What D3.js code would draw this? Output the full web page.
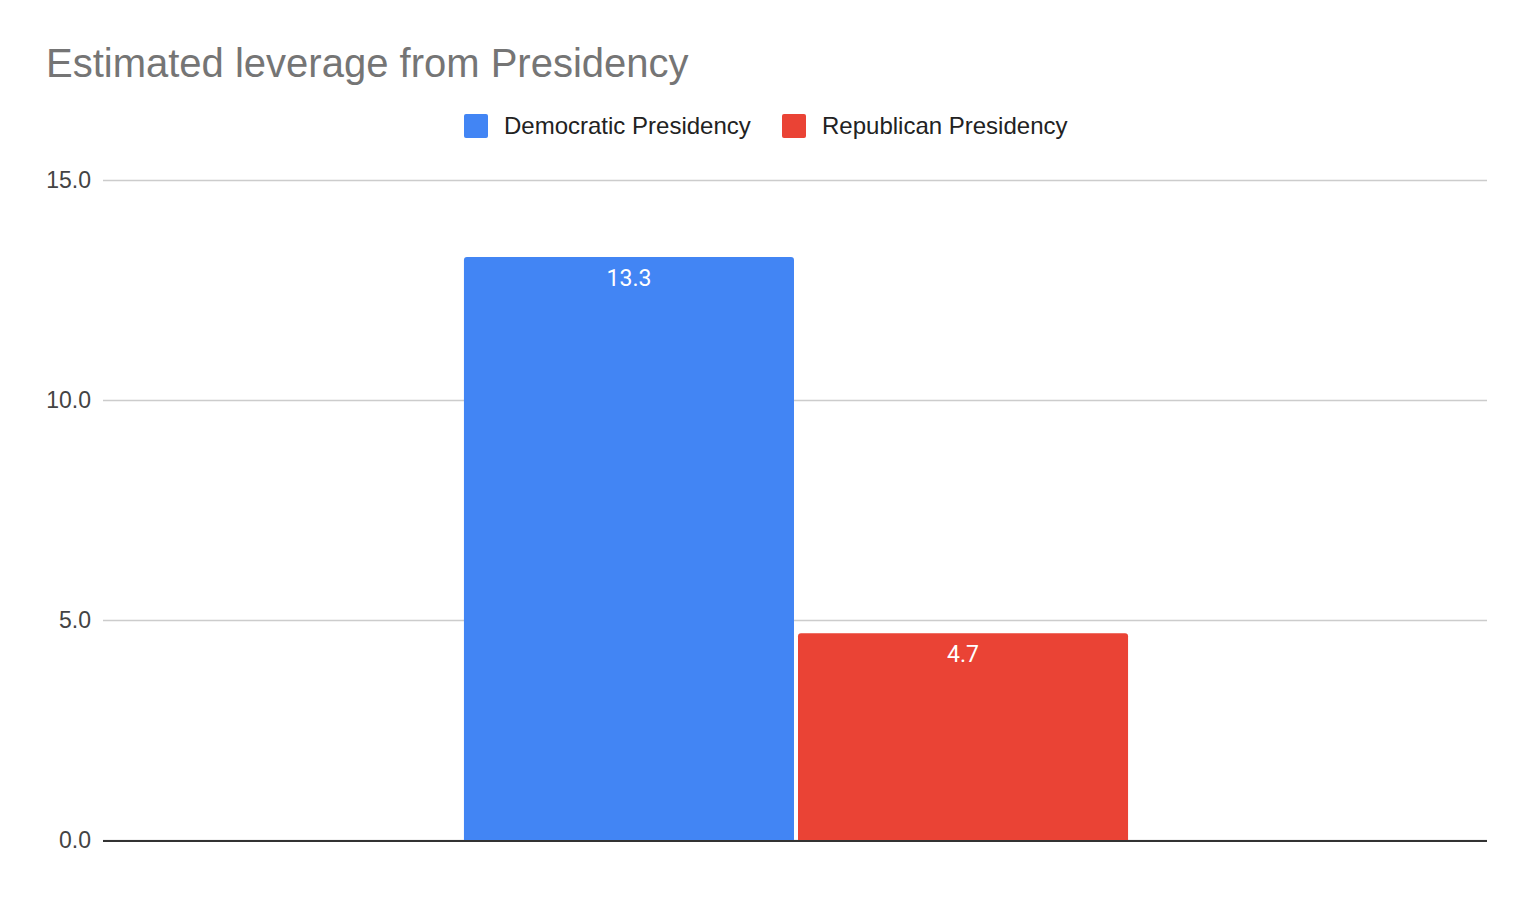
<!DOCTYPE html>
<html>
<head>
<meta charset="utf-8">
<script src="https://cdn.jsdelivr.net/npm/d3@7"></script>
<style>
  body { margin: 0; background: #fff; }
  svg { display: block; }
</style>
</head>
<body>
<div id="chart"></div>
<script>
// Data
const categories = [""];
const seriesNames = ["Democratic Presidency", "Republican Presidency"];
const seriesColors = ["#4285f4", "#ea4335"];
const seriesValues = [13.25, 4.7];
const yTicks = [0, 5, 10, 15];

const width = 1532;
const height = 898;
const margin = { top: 180, right: 45, bottom: 58, left: 103 };

const svg = d3.select("#chart").append("svg")
    .attr("width", width)
    .attr("height", height)
    .style("font-family", "Arial, 'Liberation Sans', sans-serif");

// title
svg.append("text")
    .attr("x", 46)
    .attr("y", 77)
    .attr("fill", "#757575")
    .attr("font-size", 40)
    .text("Estimated leverage from Presidency");

const y = d3.scaleLinear()
    .domain([0, 15])
    .range([height - margin.bottom, margin.top]);

const x0 = d3.scaleBand()
    .domain(categories)
    .range([margin.left + 1, width - margin.right + 1])
    .paddingInner(0)
    .paddingOuter(0.542);

const x1 = d3.scaleBand()
    .domain(seriesNames)
    .range([0, x0.bandwidth()])
    .paddingInner(0.012);

// grid lines + tick labels
const yAxis = svg.append("g")
    .attr("transform", `translate(${margin.left},0)`)
    .call(d3.axisLeft(y)
        .tickValues(yTicks)
        .tickFormat(d3.format(".1f"))
        .tickSize(-(width - margin.left - margin.right))
        .tickPadding(12));

yAxis.select(".domain").remove();
yAxis.selectAll(".tick line")
    .attr("stroke", "#cccccc")
    .attr("stroke-width", 1.5);
yAxis.selectAll(".tick text")
    .attr("fill", "#444")
    .attr("font-size", 23)
    .attr("font-family", "Arial, 'Liberation Sans', sans-serif");

// bars, top corners rounded
const r = 3;
function barPath(x, yTop, w, yBase) {
    return `M${x},${yBase}V${yTop + r}Q${x},${yTop} ${x + r},${yTop}` +
        `H${x + w - r}Q${x + w},${yTop} ${x + w},${yTop + r}V${yBase}Z`;
}

const group = svg.append("g")
    .selectAll("g")
    .data(categories)
    .join("g")
    .attr("transform", d => `translate(${x0(d)},0)`);

const bars = group.selectAll("g")
    .data(() => seriesNames.map((name, i) => ({ name, value: seriesValues[i], color: seriesColors[i] })))
    .join("g");

bars.append("path")
    .attr("fill", d => d.color)
    .attr("d", d => barPath(x1(d.name), y(d.value), x1.bandwidth(), y(0)));

bars.append("text")
    .attr("x", d => x1(d.name) + x1.bandwidth() / 2)
    .attr("y", d => y(d.value) + 29)
    .attr("text-anchor", "middle")
    .attr("fill", "#fff")
    .attr("font-size", 23)
    .attr("font-family", "Roboto, Arial, sans-serif")
    .text(d => d3.format(".1f")(d.value));

// baseline
svg.append("line")
    .attr("x1", margin.left)
    .attr("x2", width - margin.right)
    .attr("y1", y(0) + 1)
    .attr("y2", y(0) + 1)
    .attr("stroke", "#333")
    .attr("stroke-width", 2);

// legend
const legendX = [464, 782];
const legend = svg.append("g")
    .selectAll("g")
    .data(seriesNames)
    .join("g")
    .attr("transform", (d, i) => `translate(${legendX[i]},114)`);

legend.append("rect")
    .attr("width", 24)
    .attr("height", 24)
    .attr("rx", 2)
    .attr("fill", (d, i) => seriesColors[i]);

legend.append("text")
    .attr("x", 40)
    .attr("y", 20)
    .attr("fill", "#222")
    .attr("font-size", 24)
    .text(d => d);
</script>
</body>
</html>
